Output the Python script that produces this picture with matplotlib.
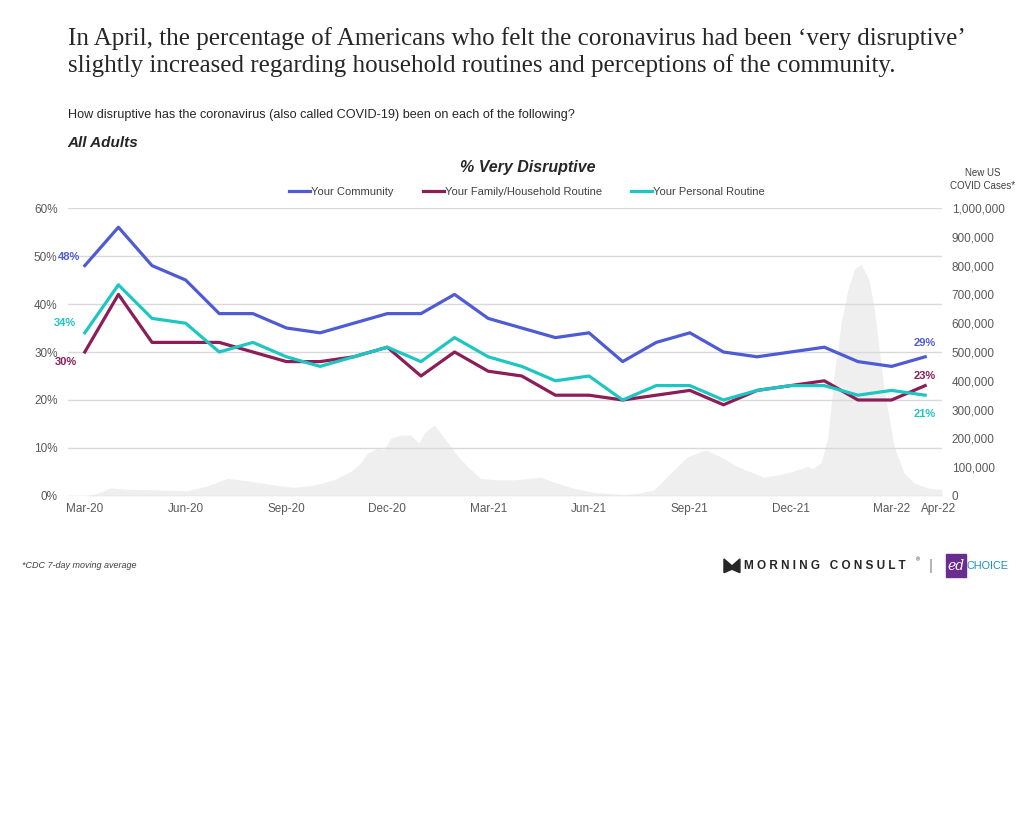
import matplotlib.pyplot as plt
import matplotlib.transforms as mtransforms
import numpy as np
from matplotlib.patches import Polygon, Rectangle

plt.rcParams['font.family'] = ['Liberation Sans', 'DejaVu Sans']

# survey months (index 0 = Mar-20)
months = ['Mar-20', 'Apr-20', 'May-20', 'Jun-20', 'Jul-20', 'Aug-20', 'Sep-20',
          'Oct-20', 'Nov-20', 'Dec-20', 'Jan-21', 'Feb-21', 'Mar-21', 'Apr-21',
          'May-21', 'Jun-21', 'Jul-21', 'Aug-21', 'Sep-21', 'Oct-21', 'Nov-21',
          'Dec-21', 'Jan-22', 'Feb-22', 'Mar-22', 'Apr-22']
tick_labels = ['Mar-20', 'Jun-20', 'Sep-20', 'Dec-20', 'Mar-21', 'Jun-21',
               'Sep-21', 'Dec-21', 'Mar-22', 'Apr-22']

community = [48, 56, 48, 45, 38, 38, 35, 34, 36, 38, 38, 42, 37, 35, 33, 34,
             28, 32, 34, 30, 29, 30, 31, 28, 27, 29]
family = [30, 42, 32, 32, 32, 30, 28, 28, 29, 31, 25, 30, 26, 25, 21, 21,
          20, 21, 22, 19, 22, 23, 24, 20, 20, 23]
personal = [34, 44, 37, 36, 30, 32, 29, 27, 29, 31, 28, 33, 29, 27, 24, 25,
            20, 23, 23, 20, 22, 23, 23, 21, 22, 21]

# new US covid cases (7-day avg), position in months since Mar-20
case_month = [0.0, 0.37, 0.76, 1.26, 2.25, 3.05, 3.64, 4.24, 4.83, 5.63, 6.22,
              6.82, 7.41, 7.9, 8.2, 8.4, 8.7, 8.9, 9.1, 9.4, 9.69, 9.94, 10.09,
              10.39, 10.59, 10.99, 11.38, 11.78, 12.28, 12.77, 13.56, 14.06,
              14.55, 15.15, 16.04, 16.5, 16.93, 17.43, 17.93, 18.47, 18.92,
              19.42, 20.2, 20.9, 21.5, 21.65, 21.9, 22.1, 22.3, 22.5, 22.7,
              22.9, 23.1, 23.33, 23.48, 23.78, 24.08, 24.37, 24.67, 25.07, 25.5]
case_values = [0, 10000, 28000, 23000, 21000, 18000, 35000, 61000, 53000, 38000,
               30000, 38000, 56000, 85000, 113000, 148000, 165000, 160000,
               200000, 212000, 212000, 183000, 218000, 246000, 218000, 154000,
               102000, 61000, 56000, 56000, 65000, 44000, 27000, 12000, 5000,
               10000, 21000, 80000, 136000, 160000, 136000, 102000, 65000,
               80000, 102000, 95000, 115000, 200000, 427000, 600000, 715000,
               790000, 805000, 750000, 656000, 368000, 170000, 80000, 45000,
               28000, 22000]

c_comm = '#4f5bd5'
c_fam = '#8c1d56'
c_pers = '#1ec6c3'
grey = '#595959'

fig = plt.figure(figsize=(10.24, 8.19), dpi=100)
ax = fig.add_axes([0.0664, 0.3944, 0.8535, 0.3516])
ax2 = ax.twinx()
ax.set_zorder(ax2.get_zorder() + 1)
ax.patch.set_visible(False)

x = np.arange(len(months))

# cases area in the back
ax2.fill_between(case_month, case_values, color='#efefef', lw=0)
ax2.set_ylim(0, 1000000)
ax2.set_yticks(np.arange(0, 1000001, 100000))
ax2.set_yticklabels(['0'] + [f'{v:,}' for v in range(100000, 1000001, 100000)])

ax.plot(x, community, color=c_comm, lw=2.3, label='Your Community')
ax.plot(x, family, color=c_fam, lw=2.3, label='Your Family/Household Routine')
ax.plot(x, personal, color=c_pers, lw=2.3, label='Your Personal Routine')

ax.set_xlim(-0.5, 25.5)
ax.set_ylim(0, 60)
ax.set_yticks(range(0, 61, 10))
ax.set_yticklabels([f'{v}%' for v in range(0, 61, 10)])
ax.set_xticks([months.index(t) for t in tick_labels])
ax.set_xticklabels(tick_labels)
ax.grid(axis='y', color='#d9d9d9', lw=1)
ax.set_axisbelow(True)

for a in (ax, ax2):
    for s in a.spines.values():
        s.set_visible(False)
    a.tick_params(length=0, labelsize=8.5, labelcolor=grey)
ax.tick_params(axis='y', pad=7.5)
ax.tick_params(axis='x', pad=5)
ax2.tick_params(axis='y', pad=7)

# nudge the last x label right so it clears Mar-22
last = ax.get_xticklabels()[-1]
last.set_transform(last.get_transform() +
                   mtransforms.ScaledTranslation(13 / 100, 0, fig.dpi_scale_trans))

# data labels at the ends
lab = dict(fontsize=8, fontweight='bold', textcoords='offset points',
           ha='center', va='center')
ax.annotate(f'{community[0]}%', (x[0], community[0]), xytext=(-11.5, 6), color=c_comm, **lab)
ax.annotate(f'{personal[0]}%', (x[0], personal[0]), xytext=(-14.5, 7), color=c_pers, **lab)
ax.annotate(f'{family[0]}%', (x[0], family[0]), xytext=(-14, -7), color=c_fam, **lab)
ax.annotate(f'{community[-1]}%', (x[-1], community[-1]), xytext=(0, 10), color=c_comm, **lab)
ax.annotate(f'{family[-1]}%', (x[-1], family[-1]), xytext=(0, 7), color=c_fam, **lab)
ax.annotate(f'{personal[-1]}%', (x[-1], personal[-1]), xytext=(0, -13.5), color=c_pers, **lab)

ax.legend(loc='lower center', bbox_to_anchor=(0.525, 1.015), ncol=3, frameon=False,
          fontsize=8, handlelength=1.9, handletextpad=0.1, columnspacing=2.6,
          labelcolor='#404040', borderaxespad=0.2)

# titles and notes
fig.text(0.066, 0.967, 'In April, the percentage of Americans who felt the coronavirus had been \u2018very disruptive\u2019\n'
         'slightly increased regarding household routines and perceptions of the community.',
         family=['Liberation Serif'], fontsize=18, color='#262626', va='top', linespacing=1.22)
fig.text(0.066, 0.859, 'How disruptive has the coronavirus (also called COVID-19) been on each of the following?',
         fontsize=9.1, color='#262626', va='center')
fig.text(0.066, 0.826, 'All Adults', fontsize=11, fontweight='bold', style='italic',
         color='#262626', va='center')
fig.text(0.515, 0.796, '% Very Disruptive', fontsize=11.5, fontweight='bold', style='italic',
         color='#262626', va='center', ha='center')
fig.text(0.96, 0.781, 'New US\nCOVID Cases*', fontsize=7, color='#404040',
         ha='center', va='center', linespacing=1.4)
fig.text(0.021, 0.309, '*CDC 7-day moving average', fontsize=6.5, style='italic',
         color='#404040', va='center')

# logos
fig.patches.append(Polygon([[0.707, 0.3008], [0.707, 0.3175], [0.7148, 0.3090],
                            [0.7226, 0.3175], [0.7226, 0.3008], [0.7148, 0.3050]],
                           closed=True, transform=fig.transFigure, color='#262626'))
fig.text(0.727, 0.309, 'M O R N I N G   C O N S U L T', fontsize=8.5, fontweight='bold',
         color='#262626', va='center')
fig.text(0.894, 0.316, '\u00ae', fontsize=4, color='#262626', va='center')
fig.text(0.909, 0.309, '|', fontsize=11, color='#8a8a8a', va='center', ha='center')
fig.patches.append(Rectangle((0.924, 0.295), 0.019, 0.029, transform=fig.transFigure,
                             color='#6b2c8f'))
fig.text(0.9335, 0.309, 'ed', fontsize=10, style='italic', color='white', va='center',
         ha='center', family=['DejaVu Serif'])
fig.text(0.944, 0.309, 'CHOICE', fontsize=7.8, color='#1a8fc7', va='center')

fig.savefig('out.png', dpi=100)
